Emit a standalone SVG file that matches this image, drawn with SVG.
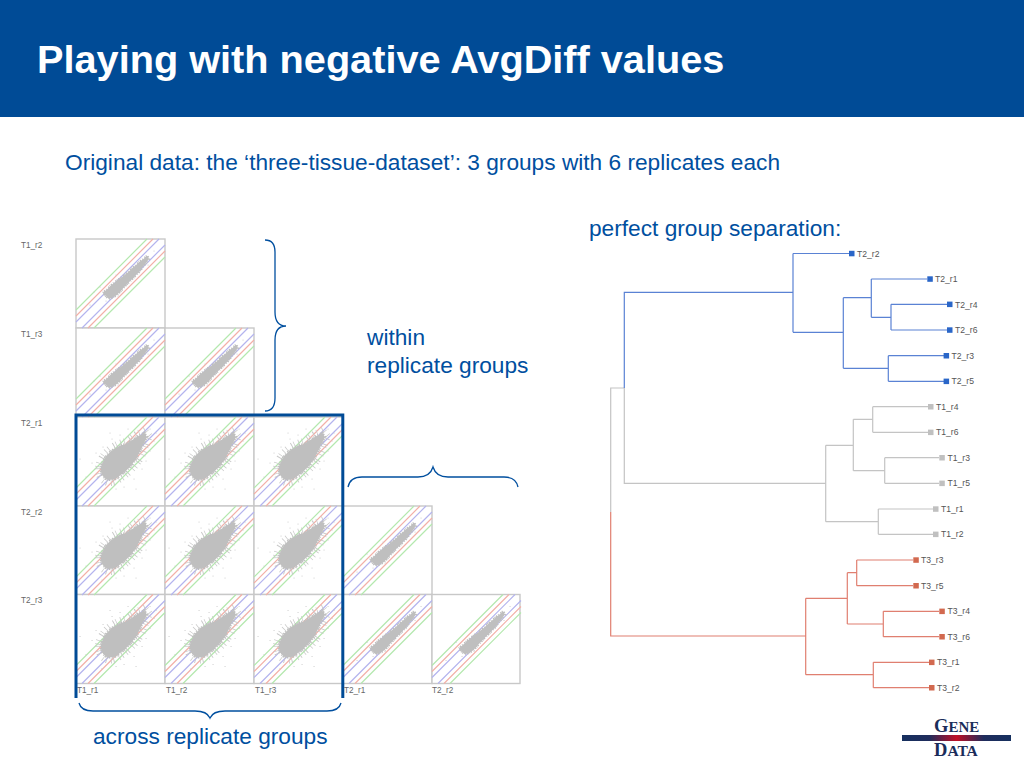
<svg xmlns="http://www.w3.org/2000/svg" width="1024" height="768" viewBox="0 0 1024 768">
<style>
text{font-family:"Liberation Sans",Arial,sans-serif}
.h{fill:#fff;font-size:39.700px;font-weight:bold}
.b{fill:#004f9f;font-size:22.700px}
.s{fill:#555;font-size:8.600px}
.m{fill:#666;font-size:8.200px}
.box{fill:#fff;stroke:#c8c8c8;stroke-width:1.400}
.brace{fill:none;stroke:#004f9f;stroke-width:1.300}
.tb{fill:none;stroke:#5a82d4;stroke-width:1.200}
.tg{fill:none;stroke:#c4c4c4;stroke-width:1.200}
.tr{fill:none;stroke:#e07f70;stroke-width:1.200}
.lb{fill:#2a66c8}.lg{fill:#c0c0c0}.lr{fill:#d2694f}
.logo{font-family:"Liberation Serif",serif;font-weight:bold;fill:#1b2d5a}
.g{fill:none;stroke:#b4e8ae;stroke-width:1.200}
.r{fill:none;stroke:#f2b0a8;stroke-width:1.200}
.v{fill:none;stroke:#b4b4ee;stroke-width:1.200}
.blob{fill:#bfbfbf}
.fuzz{fill:none;stroke:#bfbfbf;stroke-width:2.500;stroke-dasharray:1 .7 1.600 1.300 .8 2.100 1.300 .6}
.halo{fill:none;stroke:#c8c8c8;stroke-width:6;stroke-dasharray:.8 2.900 .7 5.300 .9 1.900 .7 4.100}
.dots{fill:none;stroke:#cacaca;stroke-width:1.100;stroke-linecap:round}
</style>
<defs>
<g id="lines">
<path class="g" d="M0 71L71 0M18 89L89 18"/>
<path class="r" d="M0 77L77 0M12 89L89 12"/>
<path class="v" d="M0 83L83 0M6 89L89 6"/>
</g>
<g id="wide"><use href="#lines"/>
<path class="dots" d="M16 46h.1M20 36h.1M27 30h.1M36 22h.1M44 18h.1M52 12h.1M74 12h.1M78 24h.1M74 34h.1M70 44h.1M66 52h.1M58 62h.1M48 70h.1M40 72h.1M26 74h.1M10 60h.1M4 42h.1M60 72h.1M80 16h.1M34 16h.1"/>
<path class="halo" d="M22 50C24 37 36 27 50 24L60 17L69 13L74 19L69 32C65 45 54 57 40 65C30 69 21 62 22 50Z"/>
<path class="fuzz" d="M25 50C28 38 38 30 50 27L61 20L68 16L71 20L65 32C61 43 52 54 39 62C31 65 24 60 25 50Z"/>
<path class="blob" d="M25 50C28 38 38 30 50 27L61 20L68 16L71 20L65 32C61 43 52 54 39 62C31 65 24 60 25 50Z"/></g>
<g id="narrow"><use href="#lines"/>
<path class="dots" d="M18 53h.1M24 48h.1M30 62h.1M42 57h.1M52 40h.1M66 30h.1M78 12h.1M40 36h.1M72 26h.1M14 66h.1"/>
<path class="fuzz" d="M27 54L38 44L50 35L60 26L71 17L73 20L62 34L50 46L41 56L33 60Z"/>
<path class="blob" d="M27 54L38 44L50 35L60 26L71 17L73 20L62 34L50 46L41 56L33 60Z"/></g>
</defs>
<rect width="1024" height="768" fill="#fff"/>
<rect id="header" width="1024" height="117" fill="#004b96"/>
<text class="h" x="37" y="73">Playing with negative AvgDiff values</text>
<text class="b" x="65" y="170">Original data: the ‘three-tissue-dataset’: 3 groups with 6 replicates each</text>
<text class="b" x="589" y="236">perfect group separation:</text>
<text class="b" x="367" y="345">within</text>
<text class="b" x="367" y="373">replicate groups</text>
<text class="b" x="93" y="744">across replicate groups</text>

<g id="matrix">
<g id="boxes">
<rect class="box" x="76" y="239" width="89" height="89"/>
<rect class="box" x="76" y="328" width="89" height="89"/><rect class="box" x="165" y="328" width="89" height="89"/>
<rect class="box" x="76" y="417" width="89" height="89"/><rect class="box" x="165" y="417" width="89" height="89"/><rect class="box" x="254" y="417" width="89" height="89"/>
<rect class="box" x="76" y="506" width="89" height="88.500"/><rect class="box" x="165" y="506" width="89" height="88.500"/><rect class="box" x="254" y="506" width="89" height="88.500"/><rect class="box" x="343" y="506" width="89" height="88.500"/>
<rect class="box" x="76" y="594.500" width="89" height="89"/><rect class="box" x="165" y="594.500" width="89" height="89"/><rect class="box" x="254" y="594.500" width="89" height="89"/><rect class="box" x="343" y="594.500" width="89" height="89"/><rect class="box" x="432" y="594.500" width="88" height="89"/>
</g>
<use href="#narrow" x="76" y="239"/>
<use href="#narrow" x="76" y="328"/><use href="#narrow" x="165" y="328"/>
<use href="#wide" x="76" y="417"/><use href="#wide" x="165" y="417"/><use href="#wide" x="254" y="417"/>
<use href="#wide" x="76" y="506"/><use href="#wide" x="165" y="506"/><use href="#wide" x="254" y="506"/><use href="#narrow" x="343" y="506"/>
<use href="#wide" x="76" y="594.500"/><use href="#wide" x="165" y="594.500"/><use href="#wide" x="254" y="594.500"/><use href="#narrow" x="343" y="594.500"/><use href="#narrow" x="432" y="594.500"/>
</g>
<g id="matrix-labels">
<text class="m" x="21" y="248">T1_r2</text><text class="m" x="21" y="337">T1_r3</text><text class="m" x="21" y="426">T2_r1</text><text class="m" x="21" y="515">T2_r2</text><text class="m" x="21" y="603">T2_r3</text>
<text class="m" x="77" y="693">T1_r1</text><text class="m" x="166" y="693">T1_r2</text><text class="m" x="255" y="693">T1_r3</text><text class="m" x="344" y="693">T2_r1</text><text class="m" x="432" y="693">T2_r2</text>
</g>
<path id="highlight" fill="none" stroke="#004b96" stroke-width="3" d="M76 698V415H342.800V698"/>
<g id="braces">
<path class="brace" d="M265 240Q275 240 275 252V312Q275 326 286 326Q275 326 275 340V398Q275 411 265 411"/>
<path class="brace" d="M348 487Q350 477 362 477H418Q430 477 433 467Q436 477 448 477H504Q516 477 518 487"/>
<path class="brace" d="M79 703Q81 711 93 711H195Q207 711 210 718Q213 711 225 711H327Q339 711 341 703"/>
</g>
<g id="connectors">
<path class="tg" d="M624.300 388H610.700V512M624.300 388V483.300H825.700M825.700 445.300V521.700M825.700 445.300H853.300M853.300 419.300V470.700M853.300 419.300H872.700M872.700 406.700V432.300M872.700 406.700H928M872.700 432.300H928M853.300 470.700H884.700M884.700 457.700V483.300M884.700 457.700H939M884.700 483.300H939M825.700 521.700H878.300M878.300 509V534.300M878.300 509H933M878.300 534.300H933"/>
<path class="tb" d="M624.300 388V292.300H793M793 253.500V332.300M793 253.500H849M793 332.300H843.300M843.300 297.700V368.300M843.300 297.700H871.300M871.300 279V317.300M871.300 279H927M871.300 317.300H891M891 304.300V330M891 304.300H947M891 330H947M843.300 368.300H888.300M888.300 355.700V381.300M888.300 355.700H944M888.300 381.300H944"/>
<path class="tr" d="M610.700 512V636H805.700M805.700 598.300V674.700M805.700 598.300H847.300M847.300 572.700V624M847.300 572.700H856.700M856.700 560V585.700M856.700 560H913M856.700 585.700H913M847.300 624H883.300M883.300 611.300V636.700M883.300 611.300H939M883.300 636.700H939M805.700 674.700H873.300M873.300 662.300V687.700M873.300 662.300H929M873.300 687.700H929"/>
</g>
<g id="T2_r2"><rect class="lb" x="849" y="250.800" width="5.500" height="5.500"/><text class="s" x="857" y="256.500">T2_r2</text></g>
<g id="T2_r1"><rect class="lb" x="927.300" y="276.300" width="5.500" height="5.500"/><text class="s" x="935" y="282">T2_r1</text></g>
<g id="T2_r4"><rect class="lb" x="947" y="301.600" width="5.500" height="5.500"/><text class="s" x="955" y="307.500">T2_r4</text></g>
<g id="T2_r6"><rect class="lb" x="947" y="327.300" width="5.500" height="5.500"/><text class="s" x="955" y="333">T2_r6</text></g>
<g id="T2_r3"><rect class="lb" x="943.600" y="353" width="5.500" height="5.500"/><text class="s" x="951.500" y="358.800">T2_r3</text></g>
<g id="T2_r5"><rect class="lb" x="943.600" y="378.600" width="5.500" height="5.500"/><text class="s" x="951.500" y="384.300">T2_r5</text></g>
<g id="T1_r4"><rect class="lg" x="928" y="404" width="5.500" height="5.500"/><text class="s" x="936" y="409.700">T1_r4</text></g>
<g id="T1_r6"><rect class="lg" x="928" y="429.600" width="5.500" height="5.500"/><text class="s" x="936" y="435.300">T1_r6</text></g>
<g id="T1_r3"><rect class="lg" x="939.300" y="455" width="5.500" height="5.500"/><text class="s" x="947.500" y="460.700">T1_r3</text></g>
<g id="T1_r5"><rect class="lg" x="939.300" y="480.600" width="5.500" height="5.500"/><text class="s" x="947.500" y="486.300">T1_r5</text></g>
<g id="T1_r1"><rect class="lg" x="933" y="506.300" width="5.500" height="5.500"/><text class="s" x="941" y="512">T1_r1</text></g>
<g id="T1_r2"><rect class="lg" x="933" y="531.600" width="5.500" height="5.500"/><text class="s" x="941" y="537.300">T1_r2</text></g>
<g id="T3_r3"><rect class="lr" x="913.300" y="557.300" width="5.500" height="5.500"/><text class="s" x="921" y="563">T3_r3</text></g>
<g id="T3_r5"><rect class="lr" x="913.300" y="583" width="5.500" height="5.500"/><text class="s" x="921" y="588.700">T3_r5</text></g>
<g id="T3_r4"><rect class="lr" x="939.300" y="608.600" width="5.500" height="5.500"/><text class="s" x="947.500" y="614.300">T3_r4</text></g>
<g id="T3_r6"><rect class="lr" x="939.300" y="634" width="5.500" height="5.500"/><text class="s" x="947.500" y="639.700">T3_r6</text></g>
<g id="T3_r1"><rect class="lr" x="929" y="659.600" width="5.500" height="5.500"/><text class="s" x="937" y="665.300">T3_r1</text></g>
<g id="T3_r2"><rect class="lr" x="929" y="685" width="5.500" height="5.500"/><text class="s" x="937" y="690.700">T3_r2</text></g>
<g id="logo">
<defs><linearGradient id="bar"><stop offset="0" stop-color="#16305f"/><stop offset="0.25" stop-color="#1f2c5c"/><stop offset="0.5" stop-color="#c00f26"/><stop offset="0.75" stop-color="#1f2c5c"/><stop offset="1" stop-color="#16305f"/></linearGradient></defs>
<rect x="902" y="735" width="109" height="6" fill="url(#bar)"/>
<text class="logo" x="934" y="732"><tspan font-size="18.500">G</tspan><tspan font-size="15">ENE</tspan></text>
<text class="logo" x="934" y="756"><tspan font-size="18.500">D</tspan><tspan font-size="15.500">ATA</tspan></text>
</g>
</svg>
